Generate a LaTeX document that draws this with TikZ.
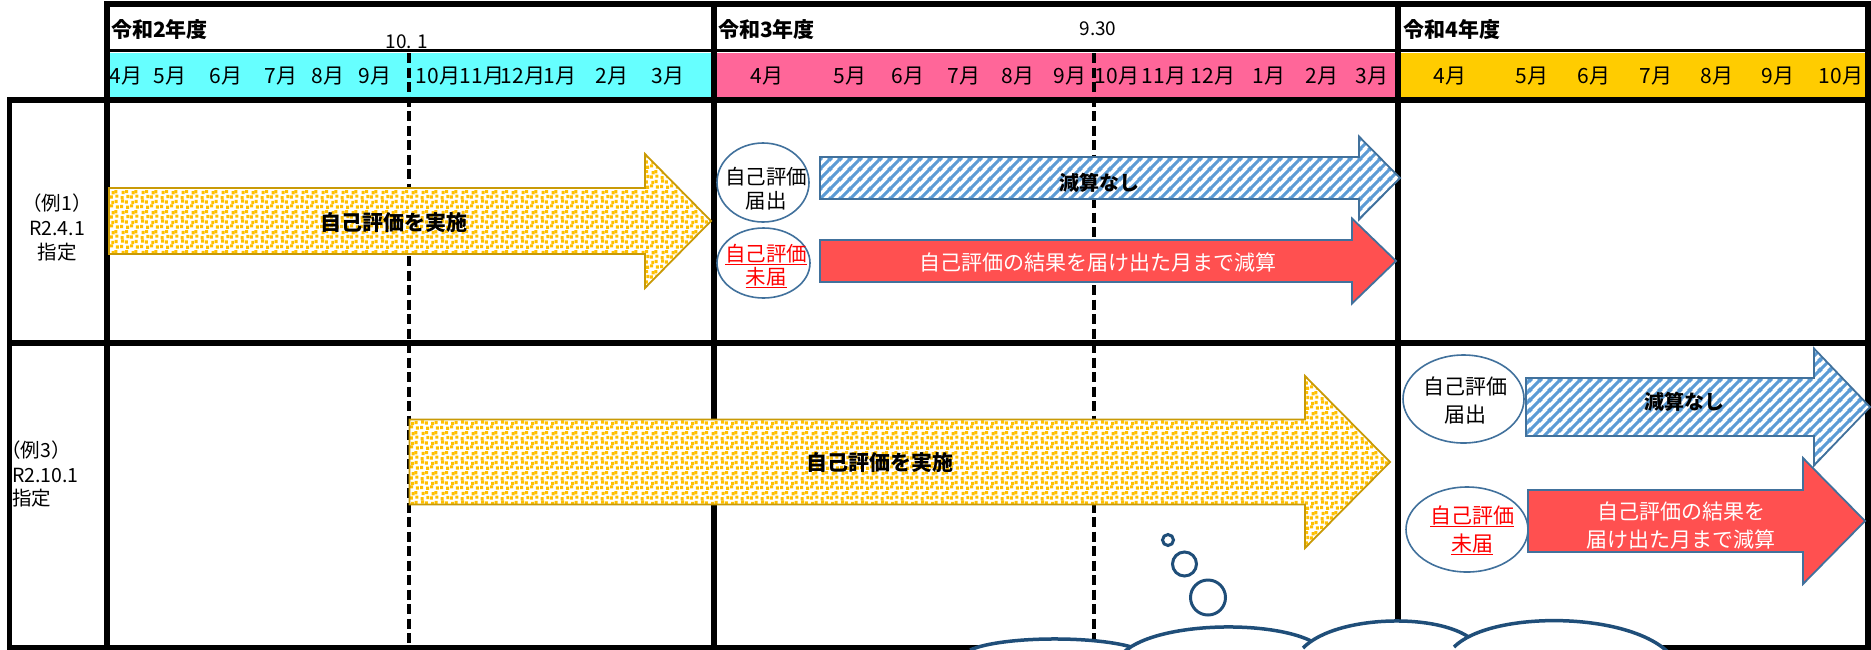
\documentclass[tikz,border=0pt]{standalone}
\usepackage{fontspec}
\setmainfont{Noto Sans CJK JP}
\usetikzlibrary{patterns.meta,shapes.geometric}

\definecolor{cyanrow}{HTML}{66FFFF}
\definecolor{pinkrow}{HTML}{FF6699}
\definecolor{goldrow}{HTML}{FFCC00}
\definecolor{dotyellow}{HTML}{FFC000}
\definecolor{goldedge}{HTML}{C99A06}
\definecolor{hatchblue}{HTML}{5B9BD5}
\definecolor{edgeblue}{HTML}{41719C}
\definecolor{redfill}{HTML}{FF5050}
\definecolor{navy}{HTML}{1F4E79}

\tikzdeclarepattern{
  name=confetti, type=uncolored,
  bottom left={(0pt,0pt)}, top right={(20pt,20pt)}, tile size={(20pt,20pt)},
  code={
    \fill (0.2pt,0.9pt) rectangle ++(3.1pt,3.3pt);
    \fill (6.5pt,0.1pt) rectangle ++(3.1pt,3.3pt);
    \fill (10.6pt,1.6pt) rectangle ++(3.1pt,3.3pt);
    \fill (16.7pt,0.5pt) rectangle ++(3.1pt,3.3pt);
    \fill (1.3pt,6.7pt) rectangle ++(3.1pt,3.3pt);
    \fill (5.1pt,5.6pt) rectangle ++(3.1pt,3.3pt);
    \fill (11.8pt,5.2pt) rectangle ++(3.1pt,3.3pt);
    \fill (15.4pt,6.2pt) rectangle ++(3.1pt,3.3pt);
    \fill (0.7pt,10.1pt) rectangle ++(3.1pt,3.3pt);
    \fill (6.6pt,11.4pt) rectangle ++(3.1pt,3.3pt);
    \fill (10.3pt,10.8pt) rectangle ++(3.1pt,3.3pt);
    \fill (16.1pt,11.8pt) rectangle ++(3.1pt,3.3pt);
    \fill (1.8pt,15.6pt) rectangle ++(3.1pt,3.3pt);
    \fill (5.5pt,16.5pt) rectangle ++(3.1pt,3.3pt);
    \fill (12.2pt,15.3pt) rectangle ++(3.1pt,3.3pt);
    \fill (15.1pt,16.4pt) rectangle ++(3.1pt,3.3pt);
  }
}
\tikzdeclarepattern{
  name=hatch, type=uncolored,
  bottom left={(0pt,0pt)}, top right={(10pt,10pt)}, tile size={(10pt,10pt)},
  code={
    \draw[line width=3.2pt] (-2pt,-2pt) -- (12pt,12pt);
    \draw[line width=3.2pt] (-7pt,3pt) -- (7pt,17pt);
    \draw[line width=3.2pt] (3pt,-7pt) -- (17pt,7pt);
  }
}

% style, x0, x-head, x-tip, y-centre, body half-height, head half-height
\newcommand{\blkarrow}[7]{%
  \path[#1] (#2,#5-#6) -- (#3,#5-#6) -- (#3,#5-#7) -- (#4,#5) -- (#3,#5+#7) -- (#3,#5+#6) -- (#2,#5+#6) -- cycle;}
% start, control1, control2, end, start-x
\newcommand{\cloudlobe}[5]{%
  \fill[white] (#1) .. controls (#2) and (#3) .. (#4) -- ++(0,25) -| (#5,672) -- (#1) -- cycle;
  \draw[cloudline] (#1) .. controls (#2) and (#3) .. (#4);}

\begin{document}
\begin{tikzpicture}[x=1pt,y=-1pt,
  gridline/.style={line width=5.5pt, line cap=rect},
  dashline/.style={line width=3.5pt, dash pattern=on 10pt off 4.5pt},
  yarrow/.style={draw=goldedge, line width=1.8pt, preaction={fill=white}, pattern={confetti}, pattern color=dotyellow},
  harrow/.style={draw=edgeblue, line width=1.8pt, preaction={fill=white}, pattern={hatch}, pattern color=hatchblue},
  rarrow/.style={draw=edgeblue, line width=1.8pt, fill=redfill},
  oval/.style={ellipse, draw=edgeblue, line width=1.6pt, fill=white, inner sep=0pt},
  bubble/.style={circle, draw=navy, line width=3pt, inner sep=0pt},
  cloudline/.style={draw=navy, line width=3.5pt},
  month/.style={font=\fontsize{21}{21}\selectfont, inner sep=0pt},
  year/.style={font=\fontsize{21}{21}\selectfont\bfseries, inner sep=0pt, anchor=west},
  datelbl/.style={font=\fontsize{19}{19}\selectfont, inner sep=0pt},
  rowlbl/.style={font=\fontsize{19.5}{24.5}\selectfont, inner sep=0pt},
  boldlbl/.style={font=\fontsize{21}{21}\selectfont\bfseries, inner sep=0pt},
  plainlbl/.style={font=\fontsize{21}{28}\selectfont, inner sep=0pt, align=center}
]
\useasboundingbox (0,0) rectangle (1871,649);
\fill[white] (0,0) rectangle (1871,649);

% coloured month rows
\fill[cyanrow] (107,52.5) rectangle (714,100);
\fill[pinkrow] (714,52.5) rectangle (1398,100);
\fill[goldrow] (1398,52.5) rectangle (1869,100);
\draw[line width=2.2pt] (107,50.5) -- (1869,50.5);

% dashed date lines
\draw[dashline] (409,53) -- (409,648);
\draw[dashline] (1094,53) -- (1094,648);

% grid
\draw[gridline] (107,4) -- (1868,4);
\draw[gridline] (107,4) -- (107,648);
\draw[gridline] (714,4) -- (714,648);
\draw[gridline] (1398,4) -- (1398,648);
\draw[gridline] (1868,4) -- (1868,648);
\draw[gridline] (9.5,100) -- (9.5,648);
\draw[gridline] (9.5,100) -- (1868,100);
\draw[gridline] (9.5,343) -- (1868,343);
\draw[gridline] (9.5,647.5) -- (1868,647.5);

% header texts
\node[year] (y2) at (111,30) {令和2年度};
\node[year] (y3) at (718,30) {令和3年度};
\node[year] (y4) at (1403,30) {令和4年度};
\node[datelbl] (d1) at (407,42) {10. 1};
\node[datelbl] (d2) at (1098,29) {9.30};

\foreach \x/\t [count=\i] in {126/4月,170/5月,226/6月,281/7月,328/8月,375/9月,438/10月,482/11月,523/12月,560/1月,612/2月,668/3月}
  \node[month] (c\i) at (\x,76.5) {\t};
\foreach \x/\t [count=\i] in {767/4月,850/5月,908/6月,964/7月,1018/8月,1070/9月,1117/10月,1164/11月,1213/12月,1269/1月,1322/2月,1372/3月}
  \node[month] (p\i) at (\x,76.5) {\t};
\foreach \x/\t [count=\i] in {1450/4月,1532/5月,1594/6月,1656/7月,1717/8月,1778/9月,1841/10月}
  \node[month] (g\i) at (\x,76.5) {\t};

% row labels
\node[rowlbl, align=center] (r1) at (57,227.5) {（例1）\\R2.4.1\\指定};
\node[rowlbl, anchor=west] (r2a) at (1,450) {（例3）};
\node[rowlbl, anchor=west] (r2b) at (12,475) {R2.10.1};
\node[rowlbl, anchor=west] (r2c) at (12,498) {指定};

% arrows
\blkarrow{yarrow}{109}{645}{711}{221}{33}{67}
\blkarrow{harrow}{820}{1359}{1400}{178}{21}{41.5}
\blkarrow{rarrow}{820}{1352}{1396}{261}{21}{42.5}
\blkarrow{yarrow}{409.5}{1305}{1390}{462}{42.5}{86}
\blkarrow{harrow}{1526}{1814}{1870}{407}{29}{58.5}
\blkarrow{rarrow}{1528}{1803}{1865}{521}{31}{63}

\node[boldlbl] (a1) at (394,223) {自己評価を実施};
\node[boldlbl, font=\fontsize{20}{20}\selectfont\bfseries] (a2) at (1099,183) {減算なし};
\node[plainlbl, text=white] (a3) at (1098,262) {自己評価の結果を届け出た月まで減算};
\node[boldlbl] (a4) at (880,463) {自己評価を実施};
\node[boldlbl, font=\fontsize{20}{20}\selectfont\bfseries] (a5) at (1684,402) {減算なし};
\node[plainlbl, text=white] (a6) at (1681,526) {自己評価の結果を\\届け出た月まで減算};

% ovals
\node[oval, minimum width=92pt, minimum height=79pt] (e1) at (763,182.5) {};
\node[oval, minimum width=93pt, minimum height=70pt] (e2) at (763.5,263) {};
\node[oval, minimum width=121pt, minimum height=88pt] (e3) at (1463.5,399) {};
\node[oval, minimum width=122pt, minimum height=85pt] (e4) at (1467,529.5) {};
\node[font=\fontsize{20.5}{24.5}\selectfont, align=center, inner sep=0pt] (t1) at (766,188.5) {自己評価\\届出};
\node[font=\fontsize{20.5}{23.5}\selectfont, align=center, inner sep=0pt, text=red] (t2) at (766,266) {\underline{自己評価}\\\underline{未届}};
\node[plainlbl] (t3) at (1465,400.5) {自己評価\\届出};
\node[plainlbl, text=red] (t4) at (1472,530) {\underline{自己評価}\\\underline{未届}};

% thought bubbles
\node[bubble, minimum size=11pt] (b1) at (1168,540) {};
\node[bubble, minimum size=24pt] (b2) at (1184.5,564) {};
\node[bubble, minimum size=35pt] (b3) at (1208,597.5) {};

% cloud
\cloudlobe{970,650}{1003,635.3}{1106,635.3}{1140,650}{970}
\cloudlobe{1124,652}{1160,619.3}{1290,619.3}{1322,648}{1124}
\cloudlobe{1303,648}{1338,612.3}{1455,612.3}{1478,646}{1303}
\cloudlobe{1454,647}{1490,611}{1625,611}{1668,652}{1454}
\end{tikzpicture}
\end{document}
